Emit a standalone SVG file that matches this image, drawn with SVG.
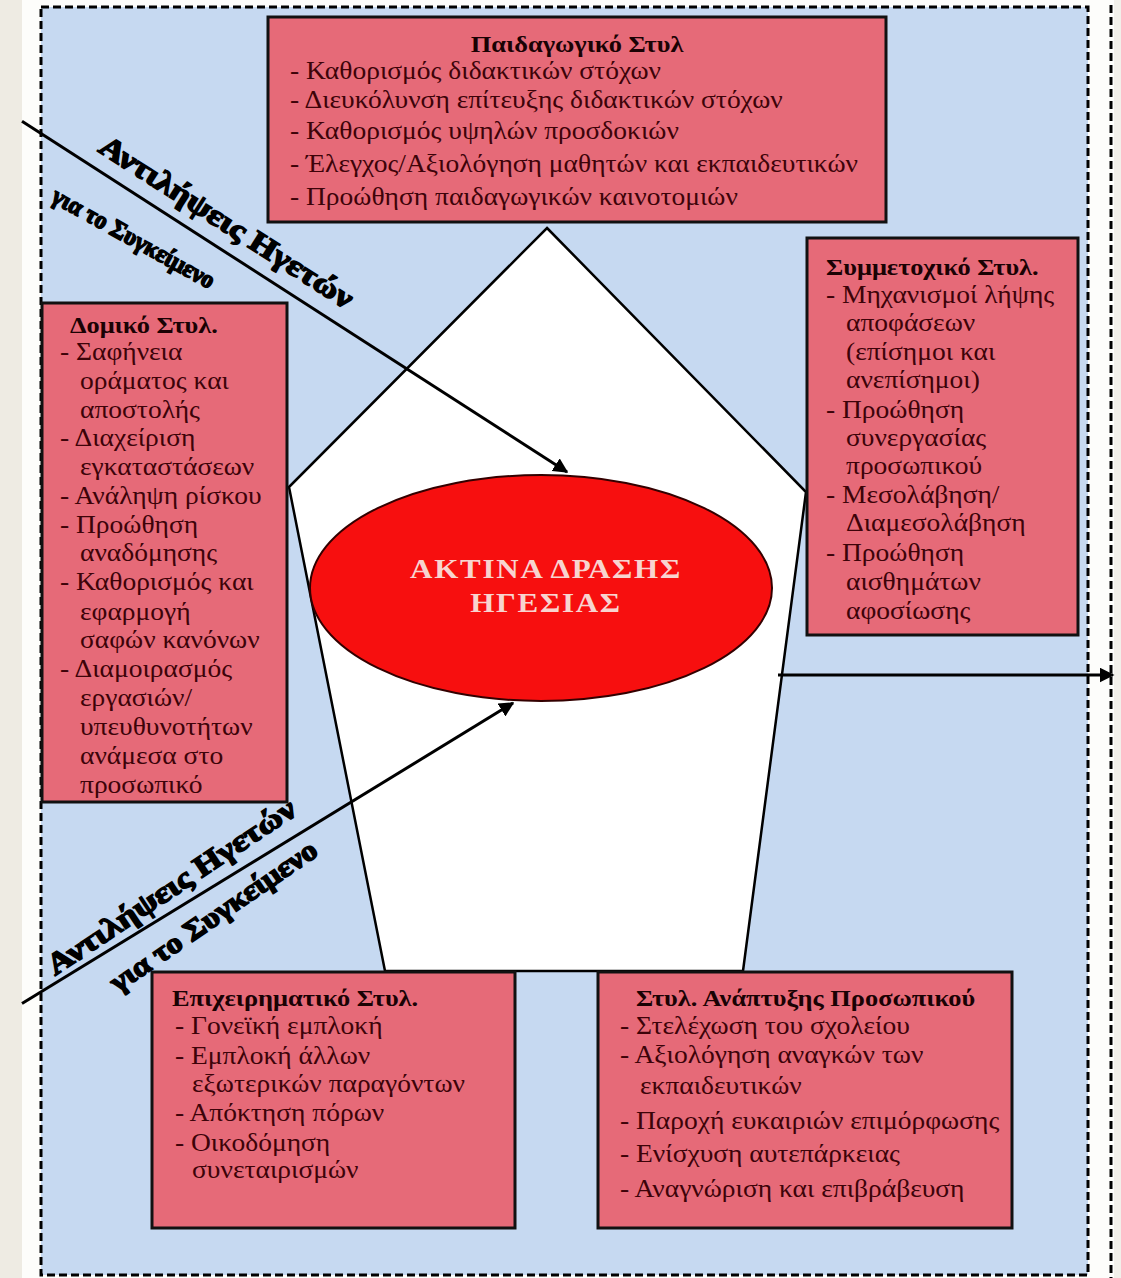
<svg xmlns="http://www.w3.org/2000/svg" width="1121" height="1278" viewBox="0 0 1121 1278">
<defs>
<style>
.box{fill:#e66a78;stroke:#111;stroke-width:3}
.t{font-family:"Liberation Serif","Times New Roman",serif;font-size:25px;fill:#3d0309}
.h{font-family:"Liberation Serif","Times New Roman",serif;font-size:24px;font-weight:bold;fill:#1a0204}
.lbl{font-family:"Liberation Serif","Times New Roman",serif;font-weight:bold;fill:#000;stroke:#000;stroke-width:1.5}
.dash{fill:none;stroke:#000;stroke-width:3;stroke-dasharray:8 4}
.conn{stroke:#000;stroke-width:3;fill:none}
</style>
<marker id="ah" viewBox="0 0 10 10" refX="9" refY="5" markerWidth="5" markerHeight="5" orient="auto" markerUnits="strokeWidth">
<path d="M0,0 L10,5 L0,10 z" fill="#000"/>
</marker>
</defs>
<rect x="0" y="0" width="1121" height="1278" fill="#fdfdfb"/>
<rect x="0" y="0" width="22" height="1278" fill="#eeebe3"/>
<rect x="1114" y="0" width="7" height="1278" fill="#f2f0ea"/>
<g id="background">
<rect x="41" y="7" width="1047" height="1268" fill="#c6d9f1"/>
<rect x="41" y="7" width="1047" height="1268" class="dash"/>
<line x1="1111" y1="5" x2="1111" y2="1278" class="dash"/>
</g>
<g id="pentagon">
<polygon points="547,228 806,492 743,971 385,971 289,487" fill="#fff" stroke="#000" stroke-width="2.5"/>
</g>
<g id="connectors">
<line x1="22" y1="121.2" x2="567" y2="472" class="conn" marker-end="url(#ah)"/>
<line x1="22" y1="1003.5" x2="513" y2="703" class="conn" marker-end="url(#ah)"/>
<line x1="778" y1="675" x2="1113" y2="675" class="conn" marker-end="url(#ah)"/>
</g>
<g id="center">
<ellipse cx="541" cy="588" rx="231" ry="113" fill="#f70f0f" stroke="#300" stroke-width="2"/>
<g transform="translate(546,0) scale(1.15,1) translate(-546,0)" font-family="Liberation Serif, serif" font-size="27" font-weight="bold" fill="#f8d4cf" text-anchor="middle">
<text x="546" y="578" letter-spacing="1.5">ΑΚΤΙΝΑ ΔΡΑΣΗΣ</text>
<text x="546" y="612" letter-spacing="1.5">ΗΓΕΣΙΑΣ</text>
</g>
</g>
<g id="label-top">
<text class="lbl" font-size="30" transform="translate(97,151) rotate(32.5) scale(1.18,1)">Αντιλήψεις Ηγετών</text>
<text class="lbl" font-size="25" transform="translate(50,201) rotate(29) scale(0.95,1)">για το Συγκείμενο</text>
</g>
<g id="label-bottom">
<text class="lbl" font-size="30" transform="translate(55,976) rotate(-33.7) scale(1.17,1)">Αντιλήψεις Ηγετών</text>
<text class="lbl" font-size="29" transform="translate(118,993) rotate(-34.5) scale(1.1,1)">για το Συγκείμενο</text>
</g>
<g id="node-paidagogiko">
<rect class="box" x="268" y="17" width="618" height="205"/>
<g transform="translate(290,0) scale(1.1,1) translate(-290,0)">
<text class="h" x="551" y="52" text-anchor="middle">Παιδαγωγικό Στυλ</text>
<text class="t" x="290" y="79">- Καθορισμός διδακτικών στόχων</text>
<text class="t" x="290" y="108">- Διευκόλυνση επίτευξης διδακτικών στόχων</text>
<text class="t" x="290" y="139">- Καθορισμός υψηλών προσδοκιών</text>
<text class="t" x="290" y="172">- Έλεγχος/Αξιολόγηση μαθητών και εκπαιδευτικών</text>
<text class="t" x="290" y="205">- Προώθηση παιδαγωγικών καινοτομιών</text>
</g>
</g>
<g id="node-domiko">
<rect class="box" x="42" y="303" width="245" height="499"/>
<g transform="translate(60,0) scale(1.1,1) translate(-60,0)">
<text class="h" x="69" y="333">Δομικό Στυλ.</text>
<text class="t" x="60" y="360">- Σαφήνεια</text>
<text class="t" x="78.2" y="389">οράματος και</text>
<text class="t" x="78.2" y="418">αποστολής</text>
<text class="t" x="60" y="446">- Διαχείριση</text>
<text class="t" x="78.2" y="475">εγκαταστάσεων</text>
<text class="t" x="60" y="504">- Ανάληψη ρίσκου</text>
<text class="t" x="60" y="533">- Προώθηση</text>
<text class="t" x="78.2" y="561">αναδόμησης</text>
<text class="t" x="60" y="590">- Καθορισμός και</text>
<text class="t" x="78.2" y="620">εφαρμογή</text>
<text class="t" x="78.2" y="648">σαφών κανόνων</text>
<text class="t" x="60" y="677">- Διαμοιρασμός</text>
<text class="t" x="78.2" y="706">εργασιών/</text>
<text class="t" x="78.2" y="735">υπευθυνοτήτων</text>
<text class="t" x="78.2" y="764">ανάμεσα στο</text>
<text class="t" x="78.2" y="793">προσωπικό</text>
</g>
</g>
<g id="node-symmetoxiko">
<rect class="box" x="807" y="238" width="271" height="397"/>
<g transform="translate(826,0) scale(1.1,1) translate(-826,0)">
<text class="h" x="826" y="275">Συμμετοχικό Στυλ.</text>
<text class="t" x="826" y="303">- Μηχανισμοί λήψης</text>
<text class="t" x="844.2" y="331">αποφάσεων</text>
<text class="t" x="844.2" y="360">(επίσημοι και</text>
<text class="t" x="844.2" y="388">ανεπίσημοι)</text>
<text class="t" x="826" y="418">- Προώθηση</text>
<text class="t" x="844.2" y="446">συνεργασίας</text>
<text class="t" x="844.2" y="474">προσωπικού</text>
<text class="t" x="826" y="503">- Μεσολάβηση/</text>
<text class="t" x="844.2" y="531">Διαμεσολάβηση</text>
<text class="t" x="826" y="561">- Προώθηση</text>
<text class="t" x="844.2" y="590">αισθημάτων</text>
<text class="t" x="844.2" y="619">αφοσίωσης</text>
</g>
</g>
<g id="node-epixeirimatiko">
<rect class="box" x="152" y="972" width="363" height="256"/>
<g transform="translate(175,0) scale(1.1,1) translate(-175,0)">
<text class="h" x="172.3" y="1006">Επιχειρηματικό Στυλ.</text>
<text class="t" x="175" y="1034">- Γονεϊκή εμπλοκή</text>
<text class="t" x="175" y="1064">- Εμπλοκή άλλων</text>
<text class="t" x="190.5" y="1092">εξωτερικών παραγόντων</text>
<text class="t" x="175" y="1121">- Απόκτηση πόρων</text>
<text class="t" x="175" y="1151">- Οικοδόμηση</text>
<text class="t" x="190.5" y="1178">συνεταιρισμών</text>
</g>
</g>
<g id="node-anaptyxi">
<rect class="box" x="598" y="972" width="414" height="256"/>
<g transform="translate(620,0) scale(1.1,1) translate(-620,0)">
<text class="h" x="634.5" y="1006">Στυλ. Ανάπτυξης Προσωπικού</text>
<text class="t" x="620" y="1034">- Στελέχωση του σχολείου</text>
<text class="t" x="620" y="1063">- Αξιολόγηση αναγκών των</text>
<text class="t" x="638.2" y="1094">εκπαιδευτικών</text>
<text class="t" x="620" y="1129">- Παροχή ευκαιριών επιμόρφωσης</text>
<text class="t" x="620" y="1162">- Ενίσχυση αυτεπάρκειας</text>
<text class="t" x="620" y="1197">- Αναγνώριση και επιβράβευση</text>
</g>
</g>
</svg>
